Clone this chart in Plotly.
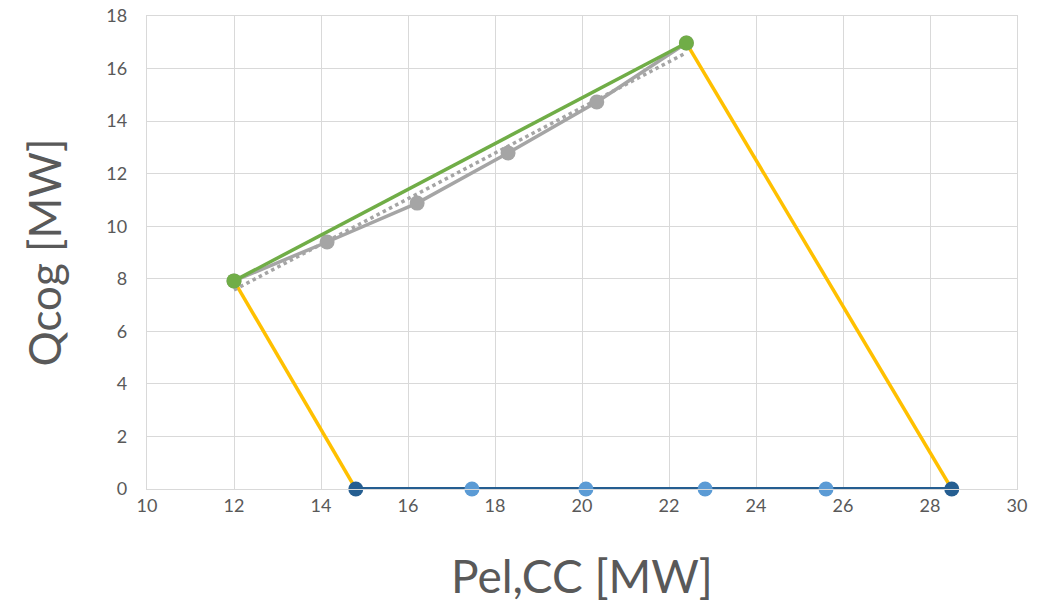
import numpy as np
import plotly.graph_objects as go

# Data
green_x = [12.0, 22.4]
green_y = [7.92, 16.97]

gray_x = [12.0, 14.14, 16.21, 18.30, 20.34, 22.4]
gray_y = [7.92, 9.40, 10.88, 12.79, 14.73, 16.97]

yellow_left_x = [12.0, 14.8]
yellow_left_y = [7.92, 0.0]
yellow_right_x = [22.4, 28.5]
yellow_right_y = [16.97, 0.0]

blue_line_x = [14.8, 28.5]
blue_line_y = [0.0, 0.0]
blue_mid_x = [17.47, 20.09, 22.83, 25.61]
blue_mid_y = [0.0, 0.0, 0.0, 0.0]
blue_end_x = [14.8, 28.5]
blue_end_y = [0.0, 0.0]

x_ticks = [10, 12, 14, 16, 18, 20, 22, 24, 26, 28, 30]
y_ticks = [0, 2, 4, 6, 8, 10, 12, 14, 16, 18]

# linear trendline of the gray series
coef = np.polyfit(gray_x, gray_y, 1)
trend_x = [min(gray_x), max(gray_x)]
trend_y = [coef[0] * v + coef[1] for v in trend_x]

fig = go.Figure()
fig.add_trace(go.Scatter(x=yellow_left_x, y=yellow_left_y, mode="lines", cliponaxis=False,
                         line=dict(color="#FFC000", width=3.5)))
fig.add_trace(go.Scatter(x=yellow_right_x, y=yellow_right_y, mode="lines", cliponaxis=False,
                         line=dict(color="#FFC000", width=3.5)))
fig.add_trace(go.Scatter(x=trend_x, y=trend_y, mode="lines", cliponaxis=False,
                         line=dict(color="#A5A5A5", width=3.5, dash="dot")))
fig.add_trace(go.Scatter(x=gray_x, y=gray_y, mode="lines+markers", cliponaxis=False,
                         line=dict(color="#A5A5A5", width=3.5),
                         marker=dict(color="#A5A5A5", size=15)))
fig.add_trace(go.Scatter(x=green_x, y=green_y, mode="lines+markers", cliponaxis=False,
                         line=dict(color="#70AD47", width=3.5),
                         marker=dict(color="#70AD47", size=15)))
fig.add_trace(go.Scatter(x=blue_line_x, y=blue_line_y, mode="lines", cliponaxis=False,
                         line=dict(color="#255E91", width=4)))
fig.add_trace(go.Scatter(x=blue_mid_x, y=blue_mid_y, mode="markers", cliponaxis=False,
                         marker=dict(color="#5B9BD5", size=15)))
fig.add_trace(go.Scatter(x=blue_end_x, y=blue_end_y, mode="markers", cliponaxis=False,
                         marker=dict(color="#255E91", size=15)))

font_family = "Lato, 'Open Sans', sans-serif"
fig.update_layout(
    width=1054, height=603,
    margin=dict(l=147, r=37, t=16, b=114, autoexpand=False),
    paper_bgcolor="white", plot_bgcolor="white",
    showlegend=False,
    font=dict(family=font_family, color="#595959"),
    xaxis=dict(range=[10, 30], tickvals=x_ticks, ticktext=[str(v) for v in x_ticks],
               automargin=False,
               showgrid=True, gridcolor="#D9D9D9", gridwidth=1.3,
               showline=True, linecolor="#D9D9D9", linewidth=1.3, mirror=True,
               zeroline=False, ticks="", tickfont=dict(size=18, color="#595959"),
               title=dict(text="Pel,CC [MW]", font=dict(size=46, color="#595959"), standoff=46)),
    yaxis=dict(range=[0, 18], tickvals=y_ticks, ticktext=[str(v) for v in y_ticks],
               automargin=False,
               showgrid=True, gridcolor="#D9D9D9", gridwidth=1.3,
               showline=True, linecolor="#D9D9D9", linewidth=1.3, mirror=True,
               zeroline=False, ticks="", tickfont=dict(size=18, color="#595959"),
               ticklabelstandoff=15,
               title=dict(text="Qcog [MW]", font=dict(size=44, color="#595959"), standoff=30)),
)

fig.write_html("out.html")
